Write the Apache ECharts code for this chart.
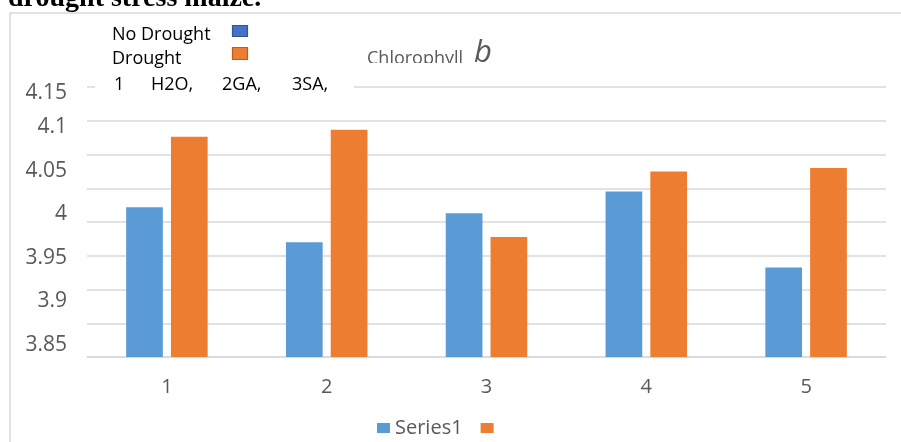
<!DOCTYPE html>
<html>
<head>
<meta charset="utf-8">
<script src="https://cdn.jsdelivr.net/npm/echarts@6/dist/echarts.min.js"></script>
<style>
  html, body { margin: 0; padding: 0; background: #ffffff; }
  #chart { width: 901px; height: 442px; }
</style>
</head>
<body>
<div id="chart"></div>
<script>
// Treatment groups along the x axis
var categories = ['1', '2', '3', '4', '5'];
// Chlorophyll b values per treatment
var series1Values = [4.008, 3.968, 4.001, 4.026, 3.939];
var series2Values = [4.089, 4.097, 3.974, 4.049, 4.053];
// Value-axis labels
var yTickLabels = [3.85, 3.9, 3.95, 4.0, 4.05, 4.1, 4.15];
// Inset legend and treatment key
var insetLegendNames = ['No Drought', 'Drought'];
var treatmentKey = ['1', 'H2O,', '2GA,', '3SA,'];
var seriesNames = ['Series1', 'Series2'];

var FONT = '"Open Sans", "Liberation Sans", sans-serif';
var GRAY_TEXT = '#595959';
var GRID_LINE = '#D9D9D9';

var chart = echarts.init(document.getElementById('chart'), null, { renderer: 'canvas' });

var option = {
  animation: false,
  backgroundColor: '#ffffff',
  textStyle: { fontFamily: FONT },
  grid: [
    // plotting area for the bars
    { left: 87, right: 15, top: 83, bottom: 85, containLabel: false },
    // horizontal rule lines
    { left: 87, right: 15, top: 87, bottom: 85, containLabel: false }
  ],
  xAxis: [
    {
      type: 'category',
      gridIndex: 0,
      data: categories,
      axisLine: { show: true, lineStyle: { color: GRID_LINE, width: 1.5 } },
      axisTick: { show: false },
      axisLabel: { color: GRAY_TEXT, fontSize: 20, fontFamily: FONT, margin: 20 },
      splitLine: { show: false }
    },
    { type: 'value', gridIndex: 1, show: false, min: 0, max: 1 }
  ],
  yAxis: [
    {
      type: 'value',
      gridIndex: 0,
      min: 3.8363,
      max: 4.1505,
      axisLine: { show: false },
      axisTick: { show: false },
      splitLine: { show: false },
      axisLabel: {
        customValues: yTickLabels,
        color: GRAY_TEXT,
        fontSize: 21,
        fontFamily: FONT,
        margin: 20,
        formatter: function (v) {
          var s = String(+v.toFixed(2));
          return v > 4.12 ? '{top|' + s + '}' : s;
        },
        rich: {
          top: { padding: [20, 0, 0, 0], color: GRAY_TEXT, fontSize: 21, fontFamily: FONT }
        }
      }
    },
    {
      type: 'value',
      gridIndex: 1,
      min: 0,
      max: 8,
      interval: 1,
      axisLine: { show: false },
      axisTick: { show: false },
      axisLabel: { show: false },
      splitLine: { show: true, lineStyle: { color: GRID_LINE, width: 1.5 } }
    }
  ],
  legend: {
    left: 372,
    top: 413,
    itemWidth: 13,
    itemHeight: 10,
    itemGap: 18,
    icon: 'rect',
    data: seriesNames,
    formatter: function (name) { return name === seriesNames[0] ? name : ''; },
    textStyle: { color: GRAY_TEXT, fontSize: 20, fontFamily: FONT, padding: [0, 0, 0, 0] }
  },
  series: [
    {
      name: seriesNames[0],
      type: 'bar',
      xAxisIndex: 0,
      yAxisIndex: 0,
      data: series1Values,
      barGap: '22%',
      barCategoryGap: '49%',
      itemStyle: { color: '#5B9BD5' }
    },
    {
      name: seriesNames[1],
      type: 'bar',
      xAxisIndex: 0,
      yAxisIndex: 0,
      data: series2Values,
      barGap: '22%',
      barCategoryGap: '49%',
      itemStyle: { color: '#ED7D31' }
    }
  ],
  graphic: [
    // caption text above the chart frame
    {
      type: 'text', left: 8, top: -15, z: 100,
      style: { text: 'drought stress maize.', font: 'bold 28px "Liberation Serif", "Times New Roman", serif', fill: '#000000' }
    },
    // chart frame (left and top edges)
    {
      type: 'polyline', z: 100,
      shape: { points: [[10, 442], [10, 13], [901, 13]] },
      style: { stroke: GRID_LINE, lineWidth: 1.5, fill: null }
    },
    // chart title
    {
      type: 'text', left: 367, top: 50, z: 100,
      style: { text: 'Chlorophyll', font: '18px ' + FONT, fill: GRAY_TEXT }
    },
    {
      type: 'text', left: 474, top: 38, z: 102,
      style: { text: 'b', font: 'italic 31px ' + FONT, fill: GRAY_TEXT }
    },
    // title box clips the lower edge of the title
    {
      type: 'rect', z: 101,
      shape: { x: 360, y: 63, width: 108, height: 14 },
      style: { fill: '#ffffff' }
    },
    // inset legend text box
    {
      type: 'rect', z: 100,
      shape: { x: 95, y: 78, width: 259, height: 20 },
      style: { fill: '#ffffff' }
    },
    {
      type: 'text', left: 112, top: 26, z: 102,
      style: { text: insetLegendNames[0], font: '18px ' + FONT, fill: '#000000' }
    },
    {
      type: 'text', left: 112, top: 50, z: 102,
      style: { text: insetLegendNames[1], font: '18px ' + FONT, fill: '#000000' }
    },
    {
      type: 'rect', z: 102,
      shape: { x: 232.5, y: 25.5, width: 15, height: 11 },
      style: { fill: '#4472C4', stroke: '#2F5597', lineWidth: 1.2 }
    },
    {
      type: 'rect', z: 102,
      shape: { x: 232.5, y: 47.5, width: 15, height: 12 },
      style: { fill: '#ED7D31', stroke: '#C55A11', lineWidth: 1.2 }
    },
    {
      type: 'text', left: 114, top: 76, z: 102,
      style: { text: treatmentKey[0], font: '18px ' + FONT, fill: '#000000' }
    },
    {
      type: 'text', left: 151, top: 76, z: 102,
      style: { text: treatmentKey[1], font: '18px ' + FONT, fill: '#000000' }
    },
    {
      type: 'text', left: 222, top: 76, z: 102,
      style: { text: treatmentKey[2], font: '18px ' + FONT, fill: '#000000' }
    },
    {
      type: 'text', left: 292, top: 76, z: 102,
      style: { text: treatmentKey[3], font: '18px ' + FONT, fill: '#000000' }
    }
  ]
};

chart.setOption(option);
</script>
</body>
</html>
